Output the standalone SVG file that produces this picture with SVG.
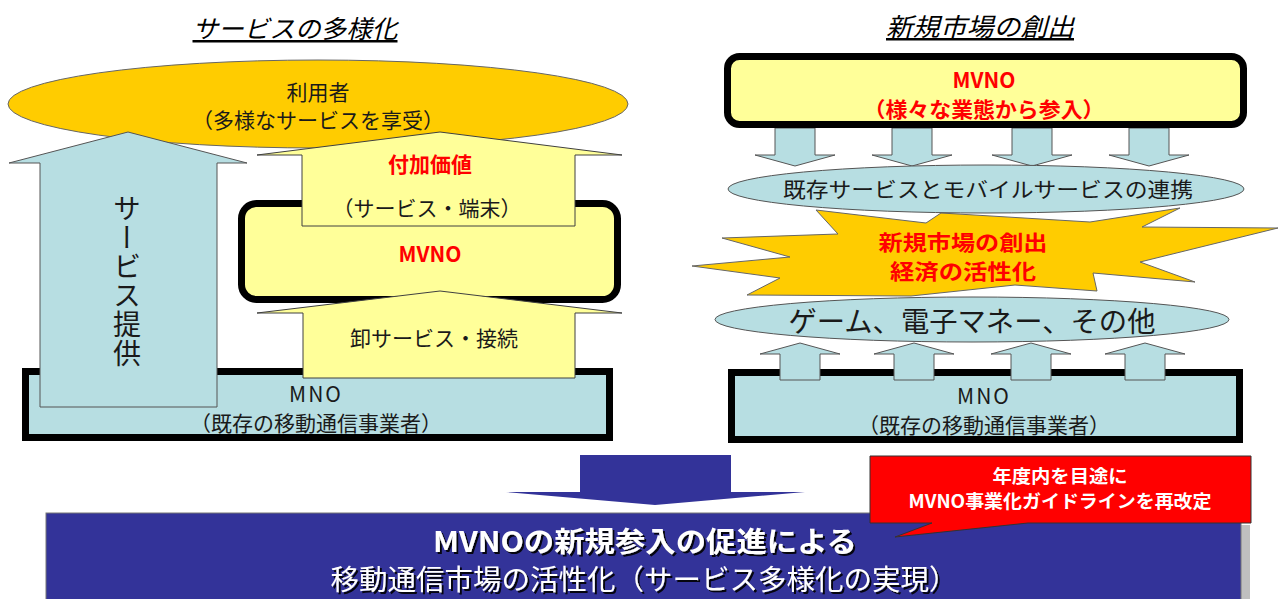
<svg xmlns="http://www.w3.org/2000/svg" width="1279" height="599" viewBox="0 0 1279 599">
<defs>
<style>
text{font-family:"Noto Sans CJK JP","Noto Sans",sans-serif;dominant-baseline:central;text-anchor:middle;fill:#1a1a1a}
.t{font-size:21px}
.title{font-size:25px;font-style:italic;text-decoration:underline;fill:#000}
.red{fill:#FF0000;font-weight:bold;font-size:21px}
.wh{fill:#ffffff}
.blue{fill:#B7DEE2;stroke:#555;stroke-width:1}
.yel{fill:#FFFF99;stroke:#404040;stroke-width:1}
.org{fill:#FFCC00;stroke:#666;stroke-width:1}
.thick{stroke:#000;stroke-width:7}
</style>
<filter id="sh" x="-5%" y="-20%" width="110%" height="140%">
<feDropShadow dx="2" dy="2" stdDeviation="0.6" flood-color="#000" flood-opacity="0.9"/>
</filter>
</defs>
<rect width="1279" height="599" fill="#ffffff"/>

<!-- Left side -->
<g id="title-left"><text class="title" x="295" y="27" textLength="205" lengthAdjust="spacingAndGlyphs">サービスの多様化</text></g>
<g id="mno-left">
<rect x="25.5" y="371.5" width="584" height="66" class="thick" fill="#B7DEE2"/>
<text class="t" x="316" y="393" letter-spacing="2">MNO</text>
<text class="t" x="316" y="422">（既存の移動通信事業者）</text>
</g>
<g id="user">
<ellipse cx="318" cy="104" rx="310" ry="44" class="org"/>
<text class="t" x="318" y="91" font-size="22">利用者</text>
<text class="t" x="318" y="119">（多様なサービスを享受）</text>
</g>
<g id="mvno-left">
<rect x="241.5" y="203.5" width="376" height="96" rx="15" class="thick" fill="#FFFF99"/>
</g>
<g id="connectors">
<path class="blue" d="M40,407 V163 H9 L128,132 L247,163 H217 V407 Z"/>
<path class="yel" d="M302,226 V155 H257 L440,132 L622,155 H575 V226 Z"/>
<path class="yel" d="M303,378 V313 H257 L440,291 L622,313 H575 V378 Z"/>
<g class="blue">
<path d="M775,128 H815 V155 H835 L795,166 L755,155 H775 Z"/>
<path d="M892,128 H932 V155 H952 L912,166 L872,155 H892 Z"/>
<path d="M1012,128 H1052 V155 H1072 L1032,166 L992,155 H1012 Z"/>
<path d="M1129,128 H1169 V155 H1189 L1149,166 L1109,155 H1129 Z"/>
</g>
<path fill="#333399" d="M580,455 H731 V492 H805 L655,505 L506,492 H580 Z"/>
</g>
<g id="service-label"><text x="127" y="281" font-size="28" style="writing-mode:vertical-rl" letter-spacing="1">サービス提供</text></g>
<g id="value-label">
<text class="red" x="430" y="163">付加価値</text>
<text class="t" x="427" y="207">（サービス・端末）</text>
</g>
<g id="mvno-left-label"><text class="red" x="430" y="253" font-size="22">MVNO</text></g>
<g id="wholesale-label"><text class="t" x="434" y="337" font-size="22">卸サービス・接続</text></g>

<!-- Right side -->
<g id="title-right"><text class="title" x="980" y="25" textLength="188" lengthAdjust="spacingAndGlyphs">新規市場の創出</text></g>
<g id="mvno-right">
<rect x="727.5" y="56.5" width="516" height="68" rx="12" class="thick" fill="#FFFF99"/>
<text class="red" x="984" y="79">MVNO</text>
<text class="red" x="984" y="108" textLength="241" lengthAdjust="spacingAndGlyphs">（様々な業態から参入）</text>
</g>
<g id="burst">
<polygon class="org" points="816,210 926,223 941,213 1090,222 1180,208 1142,227 1278,228 1140,262 1195,282 1093,273 1097,291 1015,285 911,296 747,295 780,278 692,266 790,257 722,238 838,234"/>
<text class="red" x="963" y="241" textLength="169" lengthAdjust="spacingAndGlyphs">新規市場の創出</text>
<text class="red" x="963" y="270" textLength="146" lengthAdjust="spacingAndGlyphs">経済の活性化</text>
</g>
<g id="link">
<ellipse cx="986" cy="189" rx="258" ry="24" class="blue" stroke="#666"/>
<text class="t" x="988" y="188" font-size="22" textLength="410" lengthAdjust="spacingAndGlyphs">既存サービスとモバイルサービスの連携</text>
</g>
<g id="apps">
<ellipse cx="972" cy="319.5" rx="257" ry="22.5" class="blue" stroke="#666"/>
<text x="972" y="320" font-size="28" textLength="367" lengthAdjust="spacingAndGlyphs">ゲーム、電子マネー、その他</text>
</g>
<g id="mno-right">
<rect x="731.5" y="372.5" width="508" height="67" class="thick" fill="#B7DEE2"/>
<text class="t" x="984" y="395" letter-spacing="2">MNO</text>
<text class="t" x="984" y="424">（既存の移動通信事業者）</text>
</g>
<g id="up-arrows" class="blue">
<path d="M780,380 V354 H760 L800,343 L840,354 H820 V380 Z"/>
<path d="M894,380 V354 H874 L914,343 L954,354 H934 V380 Z"/>
<path d="M1011,380 V354 H991 L1031,343 L1071,354 H1051 V380 Z"/>
<path d="M1125,380 V354 H1105 L1145,343 L1185,354 H1165 V380 Z"/>
</g>

<!-- Bottom -->
<g id="result">
<rect x="1241" y="525" width="9" height="80" fill="#BFBFBF"/>
<rect x="46" y="513" width="1195" height="95" fill="#333399" stroke="#777" stroke-width="1"/>
<text class="wh" x="645" y="540" font-size="28" font-weight="bold" textLength="424" lengthAdjust="spacingAndGlyphs" filter="url(#sh)">MVNOの新規参入の促進による</text>
<text class="wh" x="644" y="578" font-size="28" textLength="627" lengthAdjust="spacingAndGlyphs" filter="url(#sh)">移動通信市場の活性化（サービス多様化の実現）</text>
</g>
<g id="callout">
<polygon points="870,456 1251,456 1251,523 1028,523 895,537 932,523 870,523" fill="#FF0000" stroke="#333" stroke-width="1"/>
<text class="wh" x="1060" y="475" font-size="18" font-weight="bold" textLength="135" lengthAdjust="spacingAndGlyphs">年度内を目途に</text>
<text class="wh" x="1060" y="500" font-size="18" font-weight="bold" textLength="303" lengthAdjust="spacingAndGlyphs">MVNO事業化ガイドラインを再改定</text>
</g>
</svg>
